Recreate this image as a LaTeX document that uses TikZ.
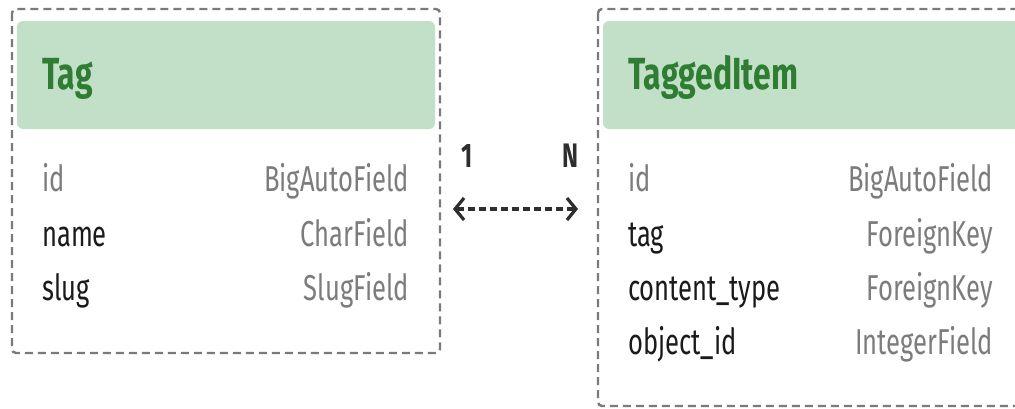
\documentclass[tikz,border=0pt]{standalone}
\usepackage{fontspec}
\setmainfont{Fira Sans}[FakeStretch=0.71]
\usetikzlibrary{arrows.meta}
\definecolor{headfill}{HTML}{C2E0C7}
\definecolor{headtext}{HTML}{2E7D32}
\definecolor{boxline}{HTML}{7A7A7A}
\definecolor{fieldname}{HTML}{1A1A1A}
\definecolor{fieldtype}{HTML}{7C7C7C}
\definecolor{linkcol}{HTML}{2E2E2E}
\tikzset{
  x=1pt, y=-1pt,
  modelbox/.style={draw=boxline, line width=2.4pt, dash pattern=on 8pt off 5pt, rounded corners=4pt},
  header/.style={fill=headfill, rounded corners=6pt},
  title/.style={anchor=base west, inner sep=0pt, text=headtext, font=\fontsize{45}{50}\selectfont\bfseries},
  fname/.style={anchor=base west, inner sep=0pt, text=fieldname, font=\fontsize{36}{40}\selectfont},
  fidname/.style={fname, text=fieldtype},
  ftype/.style={anchor=base east, inner sep=0pt, text=fieldtype, font=\fontsize{36}{40}\selectfont},
  card/.style={anchor=base, inner sep=0pt, text=linkcol, font=\fontsize{34}{40}\selectfont\bfseries},
  relation/.style={draw=linkcol, line width=3.2pt, dash pattern=on 7pt off 4pt,
    arrows={Straight Barb[length=9pt,width=22pt]-Straight Barb[length=9pt,width=22pt]}}
}
\begin{document}
\begin{tikzpicture}
\useasboundingbox (0,0) rectangle (1015,408);
\clip (0,0) rectangle (1015,408);

% Tag model
\draw[modelbox] (12,9) rectangle (440,353);
\fill[header] (17,21) rectangle (435,129);
\node[title] (tagtitle) at (42,89) {Tag};
\node[fidname] (tagid) at (42,191) {id};
\node[ftype] (tagidt) at (409,191) {BigAutoField};
\node[fname] (tagname) at (42,246) {name};
\node[ftype] (tagnamet) at (409,246) {CharField};
\node[fname] (tagslug) at (42,300) {slug};
\node[ftype] (tagslugt) at (409,300) {SlugField};

% TaggedItem model
\draw[modelbox] (598,9) rectangle (1040,406);
\fill[header] (603,21) rectangle (1035,129);
\node[title] (ititle) at (628,89) {TaggedItem};
\node[fidname] (iid) at (628,191) {id};
\node[ftype] (iidt) at (993,191) {BigAutoField};
\node[fname] (itag) at (628,246) {tag};
\node[ftype] (itagt) at (993,246) {ForeignKey};
\node[fname] (ict) at (628,300) {content\_type};
\node[ftype] (ictt) at (993,300) {ForeignKey};
\node[fname] (iobj) at (628,354) {object\_id};
\node[ftype] (iobjt) at (993,354) {IntegerField};

% one-to-many relation
\node[card] (one) at (467,167) {1};
\node[card] (many) at (570,167) {N};
\coordinate (relL) at (453,209);
\coordinate (relR) at (578,209);
\draw[relation] (relL) -- (relR);
\end{tikzpicture}
\end{document}
